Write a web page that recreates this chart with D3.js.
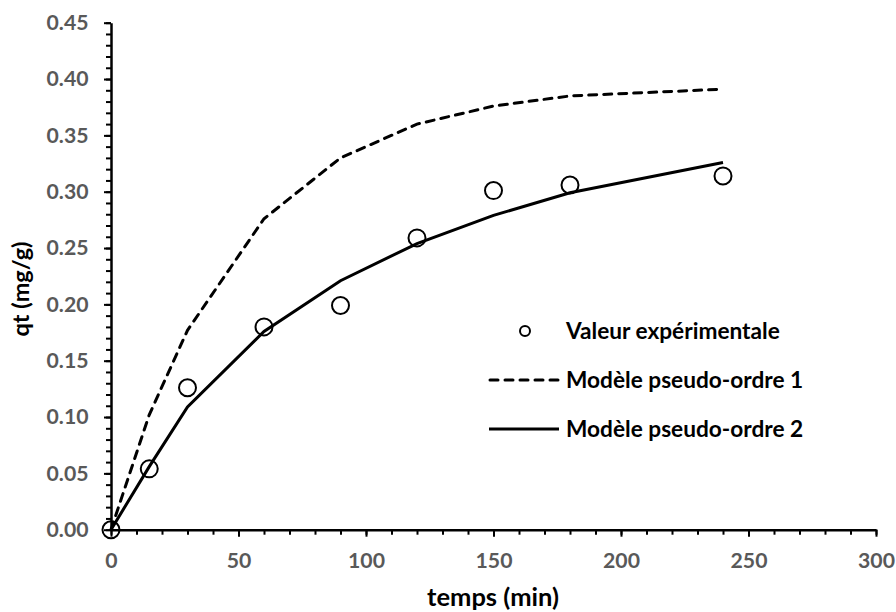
<!DOCTYPE html>
<html>
<head>
<meta charset="utf-8">
<script src="https://cdn.jsdelivr.net/npm/d3@7"></script>
<style>
  body { margin: 0; background: #fff; }
  svg { display: block; font-family: Lato, "Open Sans", sans-serif; font-weight: bold; }
</style>
</head>
<body>
<svg id="chart" width="896" height="612"></svg>
<script>
// time points (min)
const times = [0, 15, 30, 60, 90, 120, 150, 180, 240];
// experimental qt (mg/g)
const experimental = [0, 0.054, 0.126, 0.180, 0.199, 0.259, 0.301, 0.306, 0.314];
// pseudo-first-order model
const model1 = [0, 0.102, 0.177, 0.276, 0.330, 0.360, 0.376, 0.385, 0.391];
// pseudo-second-order model
const model2 = [0, 0.056, 0.109, 0.176, 0.221, 0.254, 0.279, 0.299, 0.326];

const xTicks = [0, 50, 100, 150, 200, 250, 300];
const yTicks = [0, 0.05, 0.10, 0.15, 0.20, 0.25, 0.30, 0.35, 0.40, 0.45];

const legendLabels = ['Valeur expérimentale', 'Modèle pseudo-ordre 1', 'Modèle pseudo-ordre 2'];

const svg = d3.select('#chart');

const x = d3.scaleLinear().domain([0, 300]).range([111, 876]);
const y = d3.scaleLinear().domain([0, 0.45]).range([529.7, 22.7]);

const grey = '#595959';

// scale a text's font so that it spans the wanted width (Calibri-like sizing)
function fitSize(node, target) {
  const w = node.getComputedTextLength();
  const fs = parseFloat(getComputedStyle(node).fontSize);
  return fs * target / w;
}

// minor ticks
svg.append('g')
  .attr('transform', `translate(0,${y(0)})`)
  .call(d3.axisBottom(x).tickValues(d3.range(0, 301, 10)).tickSize(5).tickSizeOuter(0).tickFormat(''))
  .call(g => g.select('.domain').remove())
  .call(g => g.selectAll('line').attr('stroke', '#000').attr('stroke-width', 2));

svg.append('g')
  .attr('transform', `translate(${x(0)},0)`)
  .call(d3.axisLeft(y).tickValues(d3.range(0, 46, 1).map(d => d / 100)).tickSize(5).tickSizeOuter(0).tickFormat(''))
  .call(g => g.select('.domain').remove())
  .call(g => g.selectAll('line').attr('stroke', '#000').attr('stroke-width', 2));

// major axes
const xAxis = svg.append('g')
  .attr('transform', `translate(0,${y(0)})`)
  .call(d3.axisBottom(x).tickValues(xTicks).tickSize(7).tickSizeOuter(0).tickPadding(16).tickFormat(d3.format('d')));

const yAxis = svg.append('g')
  .attr('transform', `translate(${x(0)},0)`)
  .call(d3.axisLeft(y).tickValues(yTicks).tickSize(7).tickSizeOuter(0).tickPadding(15.5).tickFormat(d3.format('.2f')));

[xAxis, yAxis].forEach(ax => {
  ax.select('.domain').attr('stroke', '#000').attr('stroke-width', 2.5);
  ax.selectAll('.tick line').attr('stroke', '#000').attr('stroke-width', 2);
  ax.selectAll('.tick text')
    .attr('fill', grey)
    .style('font-size', '20px')
    .style('font-family', 'Lato, sans-serif')
    .style('font-weight', 'bold');
});
xAxis.selectAll('.tick text').attr('dy', '0.71em');

// "0.00" is about 42px wide in the reference
const tickFs = fitSize(yAxis.select('.tick text').node(), 42);
svg.selectAll('.tick text').style('font-size', tickFs + 'px');

// axis titles
const xTitle = svg.append('text')
  .attr('x', 493)
  .attr('y', 606)
  .attr('text-anchor', 'middle')
  .style('font-size', '20px')
  .attr('fill', '#000')
  .text('temps (min)');
xTitle.style('font-size', fitSize(xTitle.node(), 132) + 'px');

const yTitle = svg.append('text')
  .attr('transform', 'translate(29,289) rotate(-90)')
  .attr('text-anchor', 'middle')
  .style('font-size', '20px')
  .attr('fill', '#000')
  .text('qt (mg/g)');
yTitle.style('font-size', fitSize(yTitle.node(), 95) + 'px');

// model lines
const line = d3.line()
  .x((d, i) => x(times[i]))
  .y(d => y(d));

svg.append('path')
  .datum(model1)
  .attr('d', line)
  .attr('fill', 'none')
  .attr('stroke', '#000')
  .attr('stroke-width', 3)
  .attr('stroke-dasharray', '8,7')
  .attr('stroke-linecap', 'round');

svg.append('path')
  .datum(model2)
  .attr('d', line)
  .attr('fill', 'none')
  .attr('stroke', '#000')
  .attr('stroke-width', 3);

// experimental points
svg.selectAll('.pt')
  .data(experimental)
  .enter()
  .append('circle')
  .attr('class', 'pt')
  .attr('cx', (d, i) => x(times[i]))
  .attr('cy', d => y(d))
  .attr('r', 8.5)
  .attr('fill', 'none')
  .attr('stroke', '#000')
  .attr('stroke-width', 2);

// legend
const legend = svg.append('g');
const rowY = [331, 380, 429];

legend.append('circle')
  .attr('cx', 525).attr('cy', rowY[0]).attr('r', 5)
  .attr('fill', 'none').attr('stroke', '#000').attr('stroke-width', 2);

legend.append('line')
  .attr('x1', 490).attr('x2', 559).attr('y1', rowY[1]).attr('y2', rowY[1])
  .attr('stroke', '#000').attr('stroke-width', 3)
  .attr('stroke-dasharray', '8,7').attr('stroke-linecap', 'round');

legend.append('line')
  .attr('x1', 489).attr('x2', 559).attr('y1', rowY[2]).attr('y2', rowY[2])
  .attr('stroke', '#000').attr('stroke-width', 3);

const legText = legend.selectAll('.leg-text')
  .data(legendLabels)
  .enter()
  .append('text')
  .attr('class', 'leg-text')
  .attr('x', 566)
  .attr('y', (d, i) => rowY[i])
  .attr('dy', '0.35em')
  .style('font-size', '20px')
  .attr('fill', '#000')
  .text(d => d);
const legFs = fitSize(legText.node(), 214);
legText.style('font-size', legFs + 'px');
</script>
</body>
</html>
